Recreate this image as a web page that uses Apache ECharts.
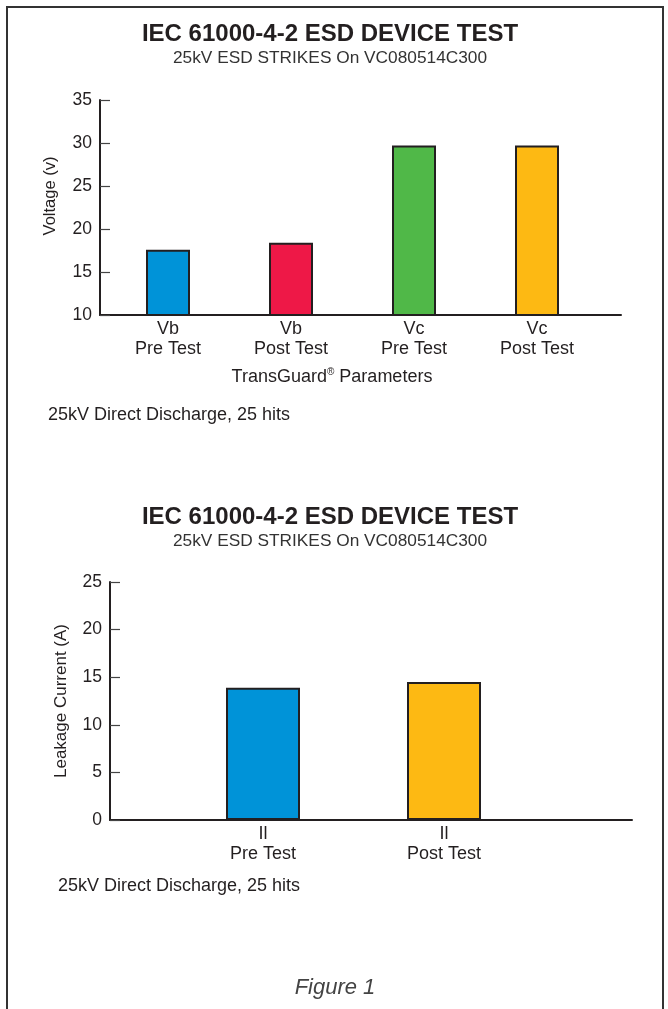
<!DOCTYPE html>
<html>
<head>
<meta charset="utf-8">
<script src="https://cdn.jsdelivr.net/npm/echarts@6/dist/echarts.min.js"></script>
<style>
  html, body { margin: 0; padding: 0; background: #fff; }
  #frame { position: absolute; left: 6px; top: 6px; width: 658px; height: 1020px; border: 2px solid #333; box-sizing: border-box; }
  #chart { position: absolute; left: 0; top: 0; width: 668px; height: 1009px; }
</style>
</head>
<body>
<div id="frame"></div>
<div id="chart"></div>
<script>
// ---- data ----
const title = 'IEC 61000-4-2 ESD DEVICE TEST';
const subtitle = '25kV ESD STRIKES On VC080514C300';
const note = '25kV Direct Discharge, 25 hits';

const voltCategories = ['Vb\nPre Test', 'Vb\nPost Test', 'Vc\nPre Test', 'Vc\nPost Test'];
const voltValues = [17.6, 18.4, 29.7, 29.7];
const voltTicks = { min: 10, max: 35, interval: 5 };

const leakCategories = ['Il\nPre Test', 'Il\nPost Test'];
const leakValues = [13.9, 14.5];
const leakTicks = { min: 0, max: 25, interval: 5 };

// ---- styles ----
const voltColors = ['#0093d8', '#ee1847', '#50b848', '#fdb913'];
const leakColors = ['#0093d8', '#fdb913'];
const FONT = '"Liberation Sans", Arial, Helvetica, sans-serif';
const INK = '#231f20';

const chart = echarts.init(document.getElementById('chart'), null, { renderer: 'canvas' });

function visAxisX(gi) {
  return { gridIndex: gi, type: 'value', min: 0, max: 1, axisLine: { show: true, lineStyle: { color: INK, width: 2 } },
           axisTick: { show: false }, axisLabel: { show: false }, splitLine: { show: false } };
}
function visAxisY(gi, t) {
  return { gridIndex: gi, type: 'value', min: t.min, max: t.max, interval: t.interval,
           axisLine: { show: true, lineStyle: { color: INK, width: 2 } },
           axisTick: { show: true, inside: true, length: 10, lineStyle: { color: '#444', width: 1.2 } },
           axisLabel: { fontSize: 17.5, color: INK, fontFamily: FONT, margin: 8 },
           splitLine: { show: false } };
}
function barAxisX(gi, cats) {
  return { gridIndex: gi, type: 'category', data: cats, axisLine: { show: false }, axisTick: { show: false },
           axisLabel: { fontSize: 18, lineHeight: 20, color: INK, fontFamily: FONT, margin: 4, interval: 0 } };
}
function barAxisY(gi, t) {
  return { gridIndex: gi, type: 'value', min: t.min, max: t.max, show: false };
}

chart.setOption({
  animation: false,
  backgroundColor: 'transparent',
  title: [
    { text: title, left: 330, top: 22, textAlign: 'center', padding: 0,
      textStyle: { fontSize: 24, fontWeight: 'bold', color: INK, fontFamily: FONT } },
    { text: subtitle, left: 330, top: 50, textAlign: 'center', padding: 0,
      textStyle: { fontSize: 17.3, fontWeight: 'normal', color: '#333', fontFamily: FONT } },
    { text: title, left: 330, top: 505, textAlign: 'center', padding: 0,
      textStyle: { fontSize: 24, fontWeight: 'bold', color: INK, fontFamily: FONT } },
    { text: subtitle, left: 330, top: 533, textAlign: 'center', padding: 0,
      textStyle: { fontSize: 17.3, fontWeight: 'normal', color: '#333', fontFamily: FONT } }
  ],
  grid: [
    { left: 100, top: 100, width: 521, height: 215 },
    { left: 106.5, top: 100, width: 492, height: 215 },
    { left: 110, top: 582, width: 522, height: 238 },
    { left: 172.5, top: 582, width: 362, height: 238 }
  ],
  xAxis: [visAxisX(0), barAxisX(1, voltCategories), visAxisX(2), barAxisX(3, leakCategories)],
  yAxis: [visAxisY(0, voltTicks), barAxisY(1, voltTicks), visAxisY(2, leakTicks), barAxisY(3, leakTicks)],
  series: [
    { type: 'bar', xAxisIndex: 1, yAxisIndex: 1, barWidth: 44, z: 1,
      data: voltValues.map((v, i) => ({ value: v, itemStyle: { color: voltColors[i] } })),
      itemStyle: { borderColor: INK, borderWidth: 2 } },
    { type: 'bar', xAxisIndex: 3, yAxisIndex: 3, barWidth: 74, z: 1,
      data: leakValues.map((v, i) => ({ value: v, itemStyle: { color: leakColors[i] } })),
      itemStyle: { borderColor: INK, borderWidth: 2 } }
  ],
  graphic: [
    { type: 'text', x: 50, y: 196, rotation: Math.PI / 2,
      style: { text: 'Voltage (v)', font: '16.5px ' + FONT, fill: INK, textAlign: 'center', textVerticalAlign: 'middle' } },
    { type: 'text', x: 61, y: 701, rotation: Math.PI / 2,
      style: { text: 'Leakage Current (A)', font: '17px ' + FONT, fill: INK, textAlign: 'center', textVerticalAlign: 'middle' } },
    { type: 'text', x: 332, y: 377,
      style: { text: '{a|TransGuard}{s|®}{a| Parameters}', textAlign: 'center', textVerticalAlign: 'middle',
               rich: { a: { fontSize: 18, fontFamily: FONT, fill: INK, color: INK, lineHeight: 20 },
                       s: { fontSize: 10, fontFamily: FONT, fill: INK, color: INK, verticalAlign: 'top', lineHeight: 20 } } } },
    { type: 'text', x: 48, y: 415,
      style: { text: note, font: '18px ' + FONT, fill: INK, textAlign: 'left', textVerticalAlign: 'middle' } },
    { type: 'text', x: 58, y: 886,
      style: { text: note, font: '18px ' + FONT, fill: INK, textAlign: 'left', textVerticalAlign: 'middle' } },
    { type: 'text', x: 335, y: 988,
      style: { text: 'Figure 1', font: 'italic 22px ' + FONT, fill: '#444', textAlign: 'center', textVerticalAlign: 'middle' } }
  ]
});
</script>
</body>
</html>
